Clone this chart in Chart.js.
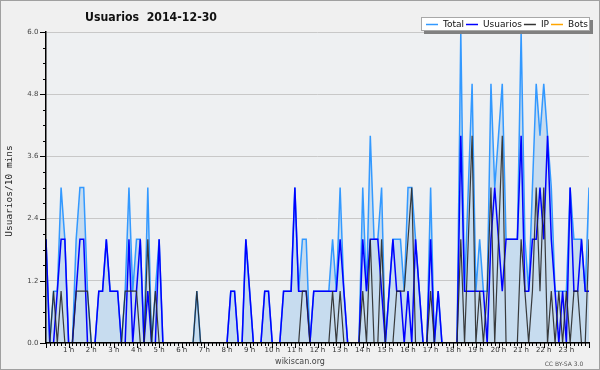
<!DOCTYPE html>
<html>
<head>
<meta charset="utf-8">
<title>Usuarios 2014-12-30</title>
<script src="https://cdn.jsdelivr.net/npm/chart.js@4.4.1/dist/chart.umd.min.js"></script>
<style>
    html, body { margin: 0; padding: 0; background: #f0f0f0; }
    #wrap { width: 600px; height: 370px; }
</style>
</head>
<body>
<div id="wrap"><canvas id="usuarios" width="600" height="370"></canvas></div>
<script>
// Usuarios por 10 minutos, 2014-12-30 (00:00 -> 24:00, 145 puntos)
const total = [
    2, 0, 1, 1, 3, 2, 0, 0, 2, 3,
    3, 1, 0, 0, 1, 1, 2, 1, 1, 1,
    0, 1, 3, 1, 2, 2, 0, 3, 0, 1,
    2, 0, 0, 0, 0, 0, 0, 0, 0, 0,
    1, 0, 0, 0, 0, 0, 0, 0, 0, 1,
    1, 0, 0, 2, 1, 0, 0, 0, 1, 1,
    0, 0, 0, 1, 1, 1, 3, 1, 2, 2,
    0, 1, 1, 1, 1, 1, 2, 1, 3, 1,
    0, 0, 0, 0, 3, 1, 4, 2, 2, 3,
    0, 1, 2, 2, 2, 1, 3, 3, 2, 1,
    0, 0, 3, 0, 1, 0, 0, 0, 0, 0,
    6, 1, 3, 5, 1, 2, 1, 1, 5, 3,
    4, 5, 2, 2, 2, 2, 6, 2, 1, 3,
    5, 4, 5, 4, 3, 1, 1, 1, 1, 3,
    2, 2, 2, 1, 3
];
const usuarios = [
    2, 0, 0, 1, 2, 2, 0, 0, 1, 2,
    2, 0, 0, 0, 1, 1, 2, 1, 1, 1,
    0, 0, 2, 0, 1, 2, 0, 1, 0, 0,
    2, 0, 0, 0, 0, 0, 0, 0, 0, 0,
    0, 0, 0, 0, 0, 0, 0, 0, 0, 1,
    1, 0, 0, 2, 1, 0, 0, 0, 1, 1,
    0, 0, 0, 1, 1, 1, 3, 1, 1, 1,
    0, 1, 1, 1, 1, 1, 1, 1, 2, 1,
    0, 0, 0, 0, 2, 1, 2, 2, 2, 1,
    0, 1, 2, 1, 1, 0, 1, 0, 2, 1,
    0, 0, 2, 0, 1, 0, 0, 0, 0, 0,
    4, 1, 1, 1, 1, 1, 1, 0, 2, 3,
    2, 1, 2, 2, 2, 2, 4, 1, 1, 2,
    2, 3, 2, 4, 2, 1, 0, 1, 0, 3,
    1, 1, 2, 1, 1
];
const ip = [
    0, 0, 1, 0, 1, 0, 0, 0, 1, 1,
    1, 1, 0, 0, 0, 0, 0, 0, 0, 0,
    0, 1, 1, 1, 1, 0, 0, 2, 0, 1,
    0, 0, 0, 0, 0, 0, 0, 0, 0, 0,
    1, 0, 0, 0, 0, 0, 0, 0, 0, 0,
    0, 0, 0, 0, 0, 0, 0, 0, 0, 0,
    0, 0, 0, 0, 0, 0, 0, 0, 1, 1,
    0, 0, 0, 0, 0, 0, 1, 0, 1, 0,
    0, 0, 0, 0, 1, 0, 2, 0, 0, 2,
    0, 0, 0, 1, 1, 1, 2, 3, 0, 0,
    0, 0, 1, 0, 0, 0, 0, 0, 0, 0,
    2, 0, 2, 4, 0, 1, 0, 1, 3, 0,
    2, 4, 0, 0, 0, 0, 2, 1, 0, 1,
    3, 1, 3, 0, 1, 0, 1, 0, 1, 0,
    1, 1, 0, 0, 2
];
const bots = []; // no bots that day

const hourLabels = ['1 h', '2 h', '3 h', '4 h', '5 h', '6 h', '7 h', '8 h', '9 h', '10 h', '11 h', '12 h',
    '13 h', '14 h', '15 h', '16 h', '17 h', '18 h', '19 h', '20 h', '21 h', '22 h', '23 h'];
const yTicks = [0, 1.2, 2.4, 3.6, 4.8, 6.0];

// point i = i * 10 minutes
const series = (values) => values.map((v, i) => ({ x: i * 10, y: v }));

// backgrounds, small ticks, title, legend, footer
const frame = {
    id: 'frame',
    beforeDraw(chart) {
        const { ctx, chartArea: a } = chart;
        ctx.save();
        ctx.fillStyle = '#f0f0f0';
        ctx.fillRect(0, 0, chart.width, chart.height);
        ctx.fillStyle = '#eef0f2';
        ctx.fillRect(a.left, a.top, a.right - a.left, a.bottom - a.top);
        ctx.restore();
    },
    afterDraw(chart) {
        const { ctx, chartArea: a, scales: { x, y } } = chart;
        ctx.save();

        // ticks
        ctx.strokeStyle = '#000';
        ctx.lineWidth = 1;
        ctx.beginPath();
        for (let m = 0; m <= 1440; m += 10) {
            const px = Math.round(x.getPixelForValue(m)) + 0.5;
            ctx.moveTo(px, a.bottom);
            ctx.lineTo(px, a.bottom + (m % 60 ? 3 : 5));
        }
        for (let k = 0; k <= 20; k++) {
            const py = Math.round(y.getPixelForValue(k * 0.3)) + 0.5;
            ctx.moveTo(a.left - (k % 4 ? 3 : 6), py);
            ctx.lineTo(a.left, py);
        }
        ctx.stroke();

        // title
        ctx.fillStyle = '#111';
        ctx.font = 'bold 12.5px "DejaVu Sans"';
        ctx.textAlign = 'center';
        ctx.textBaseline = 'alphabetic';
        ctx.fillText('Usuarios  2014-12-30', 151, 21, 132);

        // y title
        ctx.save();
        ctx.translate(10, 191);
        ctx.rotate(-Math.PI / 2);
        ctx.font = '9.5px "DejaVu Sans Mono"';
        ctx.textBaseline = 'middle';
        ctx.fillStyle = '#222';
        ctx.fillText('Usuarios/10 mins', 0, 0);
        ctx.restore();

        // legend box with shadow
        const lx = 421, ly = 17, lw = 169, lh = 14;
        ctx.fillStyle = '#808080';
        ctx.fillRect(lx + 3, ly + 3, lw, lh);
        ctx.fillStyle = '#fff';
        ctx.fillRect(lx, ly, lw, lh);
        ctx.strokeStyle = '#a8a8a8';
        ctx.strokeRect(lx + 0.5, ly + 0.5, lw - 1, lh - 1);

        ctx.font = '9px "DejaVu Sans"';
        ctx.textAlign = 'left';
        ctx.textBaseline = 'middle';
        let cx = 426;
        const cy = ly + lh / 2 + 0.5;
        chart.data.datasets.forEach((ds) => {
            ctx.strokeStyle = ds.legendColor;
            ctx.lineWidth = 1.5;
            ctx.beginPath();
            ctx.moveTo(cx, cy);
            ctx.lineTo(cx + 12, cy);
            ctx.stroke();
            cx += 17;
            ctx.fillStyle = '#111';
            ctx.fillText(ds.label, cx, cy);
            cx += ctx.measureText(ds.label).width + 2;
        });

        // footer
        ctx.fillStyle = '#444';
        ctx.textAlign = 'center';
        ctx.textBaseline = 'alphabetic';
        ctx.font = '8px "DejaVu Sans"';
        ctx.fillText('wikiscan.org', 300, 364);
        ctx.font = '6px "DejaVu Sans"';
        ctx.fillStyle = '#555';
        ctx.fillText('CC BY-SA 3.0', 564, 366);

        // outer border
        ctx.strokeStyle = '#a0a0a0';
        ctx.lineWidth = 1;
        ctx.strokeRect(0.5, 0.5, chart.width - 1, chart.height - 1);
        ctx.restore();
    }
};

const lineStyle = {
    pointRadius: 0,
    pointHoverRadius: 0,
    tension: 0,
    fill: false
};

const usuariosChart = new Chart(document.getElementById('usuarios').getContext('2d'), {
    type: 'line',
    data: {
        datasets: [{
            ...lineStyle,
            label: 'Total',
            data: series(total),
            borderColor: '#3399ff',
            legendColor: '#3399ff',
            backgroundColor: 'rgba(150, 195, 235, 0.45)',
            fill: 'origin',
            borderWidth: 1.5,
            order: 3
        }, {
            ...lineStyle,
            label: 'Usuarios',
            data: series(usuarios),
            borderColor: '#0000ff',
            legendColor: '#0000ff',
            borderWidth: 1.5,
            order: 2
        }, {
            ...lineStyle,
            label: 'IP',
            data: series(ip),
            borderColor: 'rgba(40, 40, 40, 0.9)',
            legendColor: '#333',
            borderWidth: 1.2,
            order: 1
        }, {
            ...lineStyle,
            label: 'Bots',
            data: series(bots),
            borderColor: '#ffa500',
            legendColor: '#ffa500',
            borderWidth: 1.5,
            order: 0
        }]
    },
    options: {
        responsive: false,
        animation: false,
        events: [],
        layout: { padding: { top: 32, right: 11, left: 0, bottom: 0 } },
        plugins: {
            legend: { display: false },
            title: { display: false },
            tooltip: { enabled: false }
        },
        scales: {
            x: {
                type: 'linear',
                min: 0,
                max: 1440,
                afterBuildTicks: (s) => { s.ticks = hourLabels.map((_, h) => ({ value: (h + 1) * 60 })); },
                afterFit: (s) => { s.height = 27; },
                grid: { display: false, drawTicks: false },
                border: { display: true, color: '#000', width: 1.5, z: 1 },
                ticks: {
                    autoSkip: false,
                    maxRotation: 0,
                    padding: 3,
                    color: '#333',
                    font: { family: "'DejaVu Sans', sans-serif", size: 7 },
                    callback: (v) => hourLabels[Math.round(v / 60) - 1]
                }
            },
            y: {
                min: 0,
                max: 6,
                afterBuildTicks: (s) => { s.ticks = yTicks.map((v) => ({ value: v })); },
                afterFit: (s) => { s.width = 46; },
                grid: { color: '#c8c8c8', lineWidth: 1, drawTicks: false },
                border: { display: true, color: '#000', width: 1.5, z: 1 },
                ticks: {
                    padding: 7.5,
                    color: '#444',
                    font: { family: "'DejaVu Sans', sans-serif", size: 7 },
                    callback: (v) => v.toFixed(1)
                }
            }
        }
    },
    plugins: [frame]
});
</script>
</body>
</html>
